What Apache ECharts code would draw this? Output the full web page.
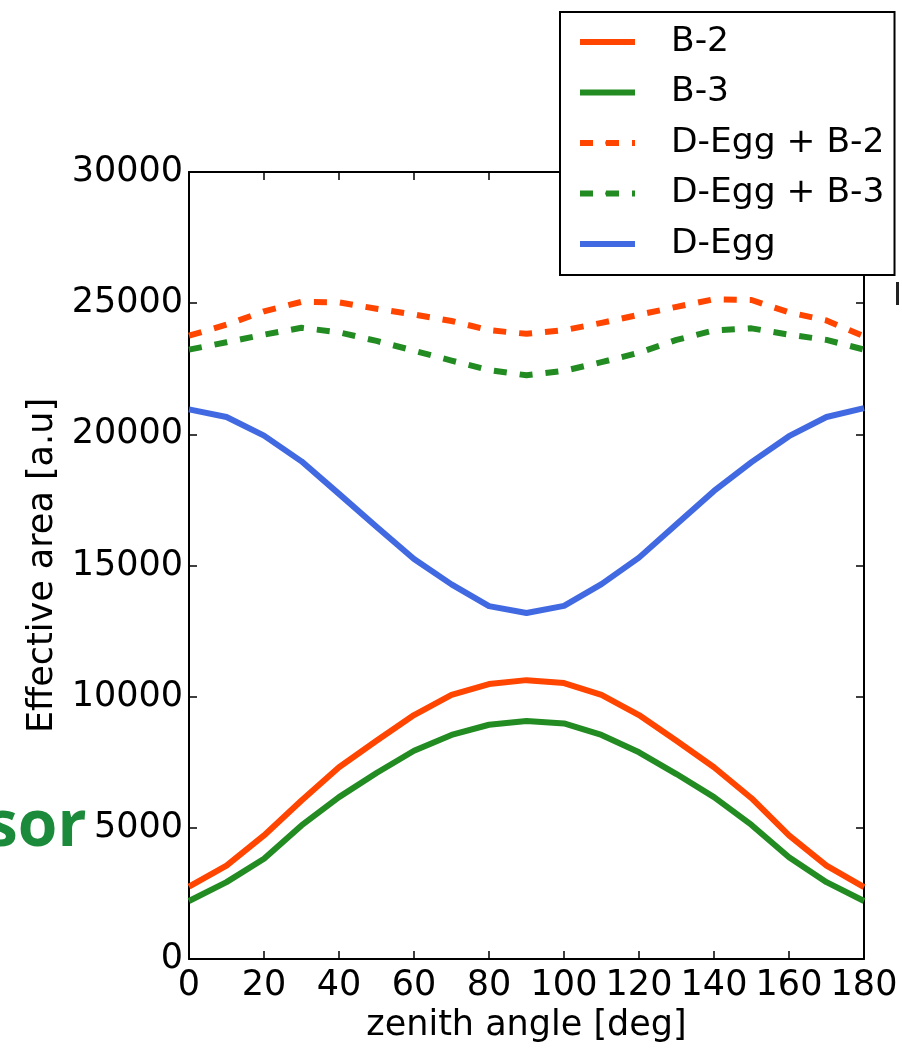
<!DOCTYPE html>
<html>
<head>
<meta charset="utf-8">
<title>Effective area vs zenith angle</title>
<script src="https://cdn.jsdelivr.net/npm/echarts@6/dist/echarts.min.js"></script>
<style>
  html, body { margin: 0; padding: 0; background: #fff; }
  #chart { width: 902px; height: 1048px; }
</style>
</head>
<body>
<div id="chart"></div>
<script>
// Zenith angles in degrees
const angles = [0, 10, 20, 30, 40, 50, 60, 70, 80, 90, 100, 110, 120, 130, 140, 150, 160, 170, 180];

// Effective area [a.u] per configuration
const b2 = [2760, 3560, 4710, 6040, 7310, 8320, 9300, 10070, 10480, 10630, 10520, 10070, 9300, 8320, 7310, 6130, 4710, 3560, 2740];
const b3 = [2210, 2930, 3820, 5090, 6170, 7090, 7940, 8540, 8930, 9070, 8980, 8540, 7880, 7050, 6170, 5110, 3880, 2930, 2210];
const dEggB2 = [23760, 24180, 24690, 25050, 25030, 24790, 24570, 24320, 23970, 23830, 23970, 24250, 24560, 24860, 25150, 25120, 24650, 24340, 23740];
const dEggB3 = [23230, 23510, 23800, 24060, 23890, 23560, 23190, 22810, 22450, 22250, 22420, 22750, 23110, 23600, 23960, 24040, 23800, 23600, 23230];
const dEgg = [20950, 20660, 19950, 18970, 17730, 16480, 15250, 14280, 13450, 13190, 13460, 14290, 15300, 16570, 17840, 18940, 19930, 20660, 21000];

// Axis ticks
const xTicks = { min: 0, max: 180, step: 20 };
const yTicks = { min: 0, max: 30000, step: 5000 };

const FONT = 'DejaVu Sans';
const AXIS_FONT_SIZE = 35;
const LEGEND_FONT_SIZE = 34.5;
const ORANGE = '#FF4500';
const GREEN = '#228B22';
const BLUE = '#4169E1';

function pairs(values) {
  return angles.map((a, i) => [a, values[i]]);
}

function lineSeries(name, values, color, dashed) {
  return {
    name: name,
    type: 'line',
    data: pairs(values),
    symbol: 'none',
    smooth: false,
    z: 3,
    lineStyle: {
      color: color,
      width: 6,
      type: dashed ? [13, 13] : 'solid',
      cap: 'butt',
      join: 'round'
    },
    itemStyle: { color: color },
    emphasis: { disabled: true }
  };
}

const axisCommon = {
  type: 'value',
  axisLine: { show: true, onZero: false, lineStyle: { color: '#000', width: 2 } },
  axisTick: { show: true, inside: true, length: 8, lineStyle: { color: '#000', width: 1.5 } },
  splitLine: { show: false }
};

const chart = echarts.init(document.getElementById('chart'), null, { renderer: 'canvas' });

chart.setOption({
  animation: false,
  backgroundColor: '#fff',
  textStyle: { fontFamily: FONT },
  grid: { left: 189, right: 38, top: 172, bottom: 88, containLabel: false },
  xAxis: [
    Object.assign({}, axisCommon, {
      position: 'bottom',
      min: xTicks.min, max: xTicks.max, interval: xTicks.step,
      name: 'zenith angle [deg]',
      nameLocation: 'middle',
      nameGap: 49,
      nameTextStyle: { fontFamily: FONT, fontSize: AXIS_FONT_SIZE, color: '#000' },
      axisLabel: {
        fontFamily: FONT, fontSize: AXIS_FONT_SIZE, color: '#000', margin: 9,
        formatter: (v) => String(v)
      }
    }),
    Object.assign({}, axisCommon, {
      position: 'top',
      min: xTicks.min, max: xTicks.max, interval: xTicks.step,
      axisLabel: { show: false }
    })
  ],
  yAxis: [
    Object.assign({}, axisCommon, {
      position: 'left',
      min: yTicks.min, max: yTicks.max, interval: yTicks.step,
      name: 'Effective area [a.u]',
      nameLocation: 'middle',
      nameGap: 125,
      nameTextStyle: { fontFamily: FONT, fontSize: AXIS_FONT_SIZE, color: '#000' },
      axisLabel: {
        fontFamily: FONT, fontSize: AXIS_FONT_SIZE, color: '#000', margin: 6,
        formatter: (v) => String(v)
      }
    }),
    Object.assign({}, axisCommon, {
      position: 'right',
      min: yTicks.min, max: yTicks.max, interval: yTicks.step,
      axisLabel: { show: false }
    })
  ],
  legend: {
    orient: 'vertical',
    left: 560,
    top: 12,
    padding: [11, 10, 12, 17],
    itemGap: 12.5,
    itemWidth: 55,
    itemHeight: 6,
    backgroundColor: '#fff',
    borderColor: '#000',
    borderWidth: 2,
    borderRadius: 0,
    selectedMode: false,
    lineStyle: { width: 6 },
    textStyle: {
      fontFamily: FONT,
      fontSize: LEGEND_FONT_SIZE,
      color: '#000',
      lineHeight: 38,
      padding: [0, 0, 0, 31]
    },
    data: ['B-2', 'B-3', 'D-Egg + B-2', 'D-Egg + B-3', 'D-Egg']
  },
  series: [
    lineSeries('B-2', b2, ORANGE, false),
    lineSeries('B-3', b3, GREEN, false),
    lineSeries('D-Egg + B-2', dEggB2, ORANGE, true),
    lineSeries('D-Egg + B-3', dEggB3, GREEN, true),
    lineSeries('D-Egg', dEgg, BLUE, false)
  ],
  graphic: [
    {
      type: 'text',
      left: -14,
      top: 796,
      z: 10,
      style: {
        text: 'sor',
        fontFamily: 'Open Sans',
        fontWeight: 'bold',
        fontSize: 64,
        fill: '#1b8a3a'
      }
    },
    {
      type: 'line',
      z: 10,
      shape: { x1: 897.5, y1: 282, x2: 897.5, y2: 305 },
      style: { stroke: '#222', lineWidth: 3 }
    }
  ]
});
</script>
</body>
</html>
